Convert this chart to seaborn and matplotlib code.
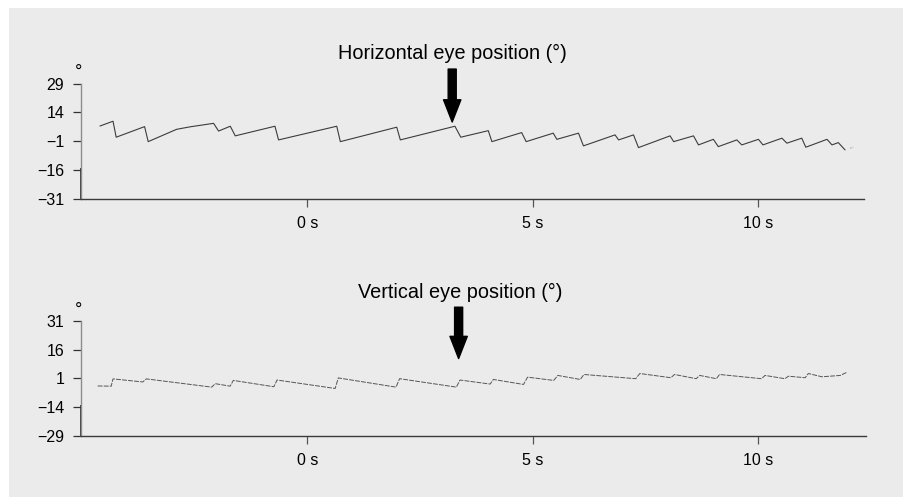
import numpy as np
import pandas as pd
import matplotlib
matplotlib.use("Agg")
import matplotlib.pyplot as plt
from matplotlib.patches import Rectangle
import seaborn as sns

# ---------------- data ----------------
h_time = [-4.60, -4.31, -4.24, -3.61, -3.53, -2.90, -2.60, -2.08, -1.97, -1.71, -1.60,
          -0.72, -0.64, 0.65, 0.73, 1.98, 2.06, 3.27, 3.40, 4.01, 4.09, 4.75, 4.85,
          5.45, 5.53, 6.01, 6.12, 6.82, 6.90, 7.23, 7.34, 8.04, 8.12, 8.56, 8.67,
          9.00, 9.11, 9.52, 9.63, 10.00, 10.10, 10.52, 10.63, 10.96, 11.05, 11.52,
          11.63, 11.77, 11.92]
h_pos = [6.9, 9.4, 1.1, 6.6, -1.2, 5.2, 6.5, 8.3, 4.3, 6.8, 1.8,
         6.8, -0.3, 6.8, -1.2, 6.3, -0.3, 6.8, 1.1, 4.5, -1.2, 3.5, -1.2,
         3.2, 0.0, 3.2, -3.4, 2.3, -0.3, 2.3, -4.3, 1.8, -1.2, 1.8, -2.9,
         0.0, -3.8, -0.3, -2.9, 0.0, -2.9, 0.6, -2.0, 0.6, -4.1, 0.0,
         -2.9, -1.7, -5.5]
h_tail_time = [12.04, 12.10]
h_tail_pos = [-4.6, -4.1]

v_time = [-4.65, -4.35, -4.31, -3.65, -3.57, -2.12, -2.04, -1.71, -1.64, -0.74, -0.67,
          0.62, 0.69, 1.97, 2.05, 3.31, 3.39, 4.06, 4.13, 4.80, 4.89, 5.47, 5.56,
          6.06, 6.14, 7.29, 7.38, 8.07, 8.15, 8.63, 8.71, 9.08, 9.15, 10.08, 10.16,
          10.60, 10.68, 11.05, 11.12, 11.42, 11.83, 11.98]
v_pos = [-2.9, -3.0, 0.8, -0.8, 0.8, -3.5, -1.7, -3.0, 0.0, -3.3, 0.2,
         -4.2, 1.3, -3.5, 0.9, -3.5, 0.2, -1.9, 0.5, -2.1, 1.7, 0.0, 2.6,
         0.5, 3.1, 0.9, 3.6, 1.4, 3.1, 0.9, 2.6, 0.9, 3.1, 0.9, 2.6,
         0.9, 2.2, 1.4, 3.6, 1.9, 2.6, 4.3]
v_tail_time = [12.48, 12.52]
v_tail_pos = [2.6, 2.6]

h_yticks = [29, 14, -1, -16, -31]
v_yticks = [31, 16, 1, -14, -29]
x_ticks = [0, 5, 10]
x_ticklabels = ["0 s", "5 s", "10 s"]
titles = ["Horizontal eye position (°)", "Vertical eye position (°)"]
arrow_time = [3.21, 3.36]
arrow_tip = [9.0, 11.4]
arrow_top = [36.5, 38.2]

# ---------------- style ----------------
sns.set_style("ticks")
plt.rcParams["font.family"] = ["Liberation Sans", "DejaVu Sans"]
plt.rcParams["axes.unicode_minus"] = True
plt.rcParams["text.color"] = "black"

W, H = 904, 497
fig = plt.figure(figsize=(W / 100, H / 100), dpi=100)
fig.patch.set_facecolor("white")
bg = Rectangle((9 / W, 0), 1, 1 - 8 / H, transform=fig.transFigure,
               facecolor="#ebebeb", edgecolor="none", zorder=-10)
fig.add_artist(bg)

left = 81 / W
width = 783 / W
ax_top = fig.add_axes([left, 1 - 199 / H, width, 115.5 / H])
ax_bot = fig.add_axes([left, 1 - 436 / H, 785 / W, 115 / H])

df_h = pd.DataFrame({"t": h_time, "pos": h_pos})
df_ht = pd.DataFrame({"t": h_tail_time, "pos": h_tail_pos})
df_v = pd.DataFrame({"t": v_time, "pos": v_pos})
df_vt = pd.DataFrame({"t": v_tail_time, "pos": v_tail_pos})

sns.lineplot(data=df_h, x="t", y="pos", ax=ax_top, sort=False, estimator=None,
             color="#3c3c3c", linewidth=0.8)
sns.lineplot(data=df_ht, x="t", y="pos", ax=ax_top, sort=False, estimator=None,
             color="#777777", linewidth=0.7, linestyle=(0, (1, 1.5)))
sns.lineplot(data=df_v, x="t", y="pos", ax=ax_bot, sort=False, estimator=None,
             color="#555555", linewidth=0.7, linestyle=(0, (5, 1.2)))
sns.lineplot(data=df_vt, x="t", y="pos", ax=ax_bot, sort=False, estimator=None,
             color="#777777", linewidth=0.7)

for i, (ax, yt) in enumerate([(ax_top, h_yticks), (ax_bot, v_yticks)]):
    ax.set_facecolor("none")
    ax.set_xlim(-5.02, 12.34 if i == 0 else 12.40)
    ax.set_ylim(min(yt), max(yt))
    ax.set_yticks(yt)
    ax.set_xticks(x_ticks)
    ax.set_xticklabels(x_ticklabels)
    ax.set_xlabel("")
    ax.set_ylabel("")
    for s in ["top", "right"]:
        ax.spines[s].set_visible(False)
    ax.spines["left"].set_color("#8c8c8c")
    ax.spines["left"].set_linewidth(1.0)
    ax.spines["bottom"].set_color("#3a3a3a")
    ax.spines["bottom"].set_linewidth(1.0)
    ax.plot([0, 0], [0, 0.27], transform=ax.transAxes, color="#1e1e1e",
            linewidth=1.2, clip_on=False, solid_capstyle="butt")
    ax.tick_params(axis="y", direction="out", length=6, width=0.9, color="#333333",
                   pad=6, labelsize=11.5, labelcolor="black")
    ax.tick_params(axis="x", direction="out", length=5.5, width=0.9, color="#555555",
                   pad=7, labelsize=11.5, labelcolor="black")
    ax.annotate("°", xy=(0, 1), xycoords="axes fraction", xytext=(-1.5, 8),
                textcoords="offset points", ha="center", va="center", fontsize=13,
                color="black")
    ax.annotate("", xy=(arrow_time[i], arrow_tip[i]), xytext=(arrow_time[i], arrow_top[i]),
                arrowprops=dict(facecolor="black", edgecolor="black", width=5.8,
                                headwidth=12.5, headlength=16, shrink=0),
                annotation_clip=False)

fig.text(452 / W, 1 - 53 / H, titles[0], ha="center", va="center", fontsize=14.3,
         color="black")
fig.text(460 / W, 1 - 292 / H, titles[1], ha="center", va="center", fontsize=14.3,
         color="black")

fig.savefig("out.png", dpi=100, facecolor=fig.get_facecolor())
